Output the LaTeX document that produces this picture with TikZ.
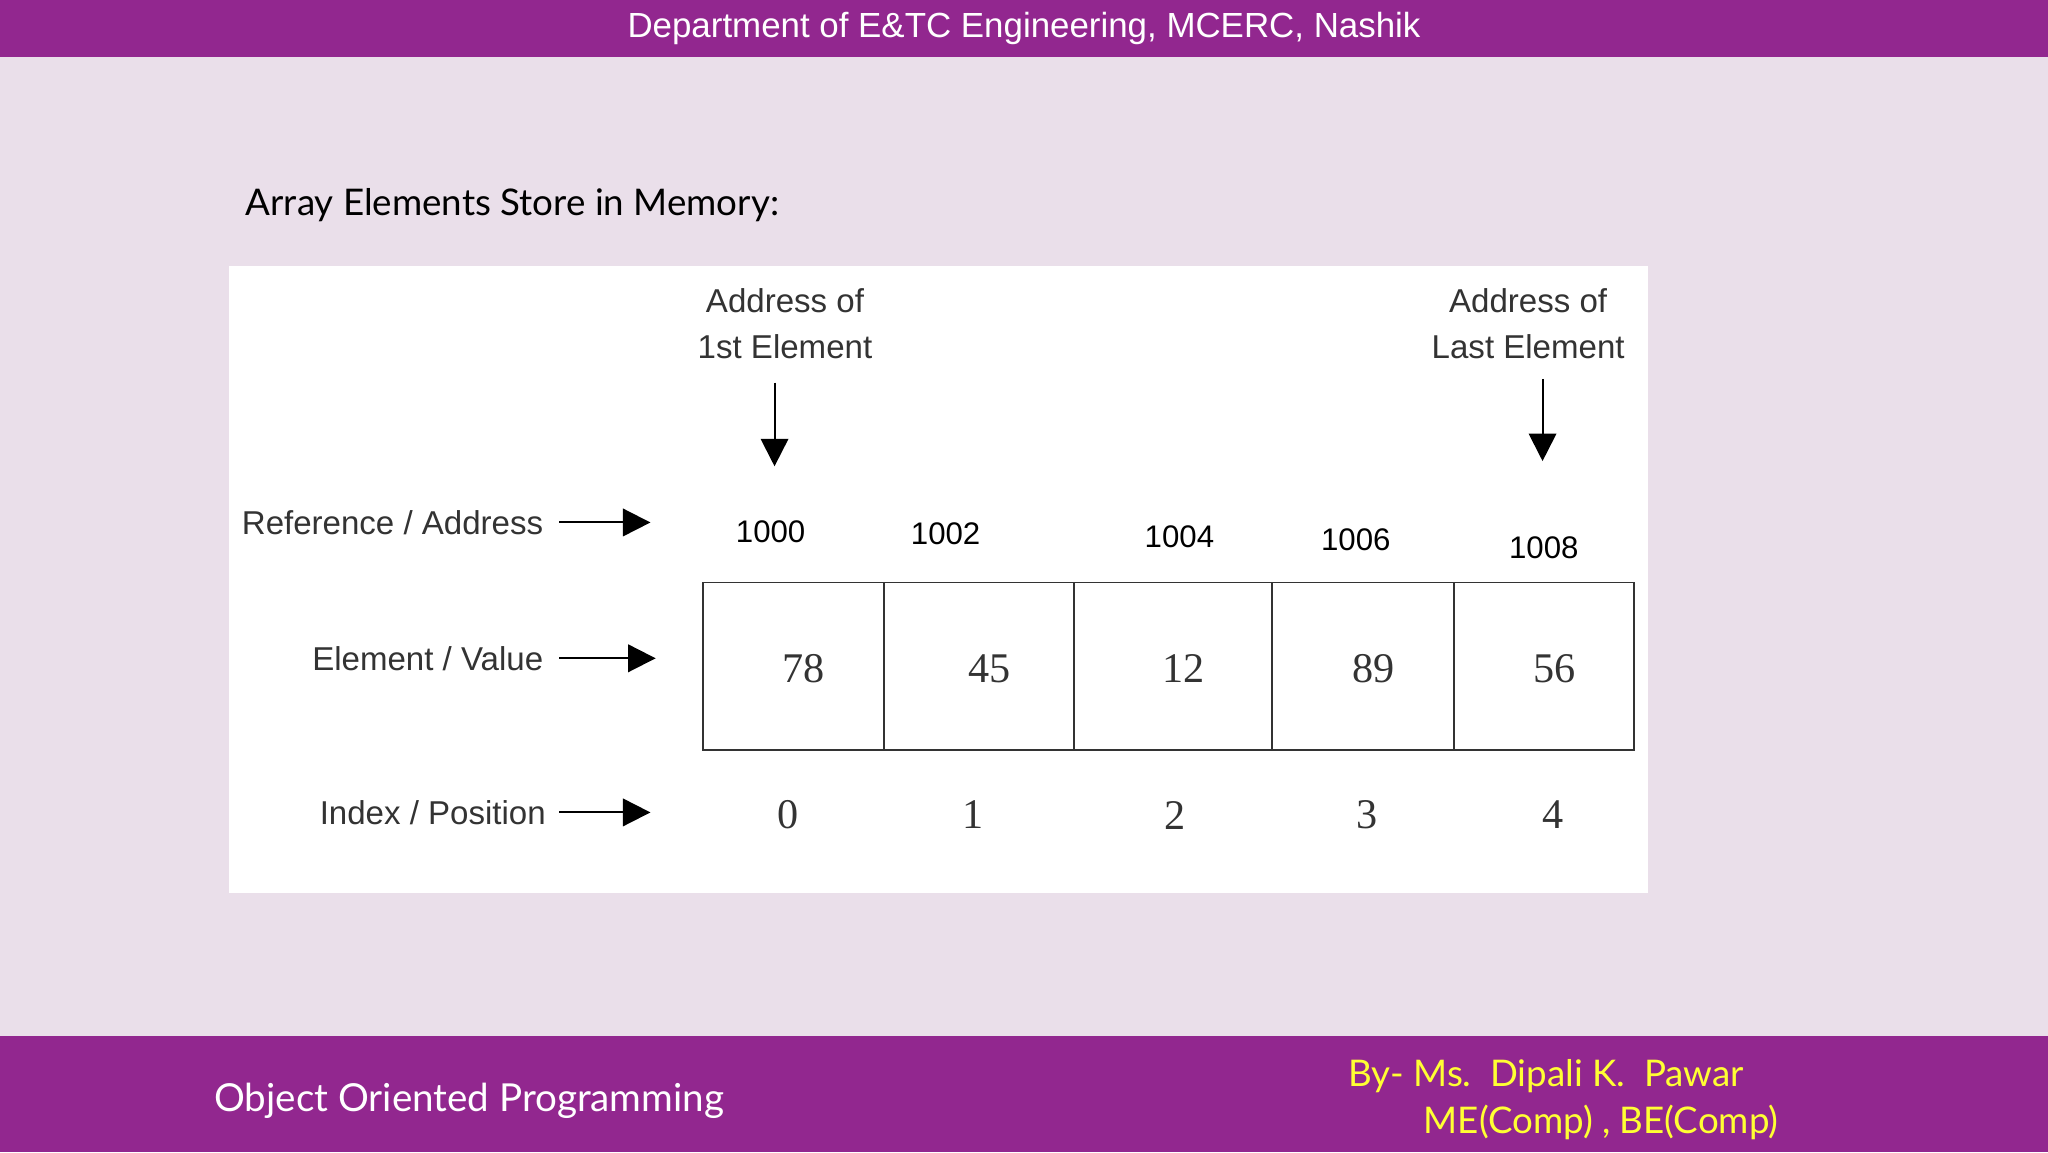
\documentclass[tikz,border=0pt]{standalone}
\usepackage{fontspec}
\setmainfont{Liberation Sans}
\newfontfamily\lato{Lato}
\newfontfamily\tms{Liberation Serif}
\usetikzlibrary{arrows.meta}
\definecolor{barpurple}{HTML}{92278F}
\definecolor{bgl}{HTML}{EADFEA}
\definecolor{yel}{HTML}{FFFF33}
\definecolor{ink}{HTML}{333333}
\tikzset{
 lbl/.style={text=ink,font=\fontsize{36}{40}\selectfont,inner sep=0pt},
 addr/.style={text=black,font=\fontsize{34}{38}\selectfont,inner sep=0pt},
 val/.style={text=ink,font=\tms\fontsize{46}{50}\selectfont,inner sep=0pt},
 cell/.style={draw=ink,line width=2pt,minimum height=128*0.05cm,inner sep=0pt},
 arr/.style={line width=2.2pt,-{Triangle[length=30pt,width=30pt]}},
}
\begin{document}
\begin{tikzpicture}[x=0.05cm,y=-0.05cm]
\useasboundingbox (0,0) rectangle (1568,882);
\fill[bgl] (0,0) rectangle (1568,882);
\fill[barpurple] (0,0) rectangle (1568,44);
\fill[barpurple] (0,793) rectangle (1568,882);
\node[text=white,font=\fontsize{38}{42}\selectfont] (hdr) at (784,22) {Department of E\&TC Engineering, MCERC, Nashik};
\node[anchor=west,text=white,font=\lato\fontsize{42}{46}\selectfont,inner sep=0pt] (oop) at (164,843) {Object Oriented Programming};
\node[anchor=west,text=yel,font=\lato\fontsize{40}{44}\selectfont,inner sep=0pt] (by) at (1032,824) {By- Ms.\ \ Dipali K.\ \ Pawar};
\node[anchor=west,text=yel,font=\lato\fontsize{40}{44}\selectfont,inner sep=0pt] (deg) at (1090,859) {ME(Comp) , BE(Comp)};
\node[anchor=west,text=black,font=\lato\fontsize{40}{44}\selectfont,inner sep=0pt] (title) at (188,157) {Array Elements Store in Memory:};
\fill[white] (175,204) rectangle (1262,684);
% cells
\foreach \a/\b/\v/\n in {538/677/78/c0,677/822/45/c1,822/974/12/c2,974/1113/89/c3,1113/1251/56/c4}{
 \node[cell,minimum width=(\b-\a)*0.05cm] (\n) at ({(\a+\b)/2},510) {};
 \node[val] (v\n) at ({(\a+\b)/2+8},512) {\v};
}
\foreach \x/\y/\t/\n in {590/407/1000/a0,724/409/1002/a1,903/411/1004/a2,1038/413/1006/a3,1182/419/1008/a4}{
 \node[addr] (\n) at (\x,\y) {\t};}
\foreach \x/\t in {603/0,745/1,900/2,1047/3,1189/4}{
 \node[val] (i\t) at (\x,624) {\t};}
\node[lbl,anchor=east] (lr) at (416,400) {Reference / Address};
\node[lbl,anchor=east] (le) at (416,504) {Element / Value};
\node[lbl,anchor=east] (li) at (418,622) {Index / Position};
\coordinate (er) at (498,400); \coordinate (ee) at (502,504); \coordinate (ei) at (498,622);
\draw[arr] (lr.east)++(12,0) -- (er);
\draw[arr] (le.east)++(12,0) -- (ee);
\draw[arr] (li.east)++(10,0) -- (ei);
\node[lbl,align=center,font=\fontsize{36}{50}\selectfont] (af) at (601,248) {Address of\\1st Element};
\node[lbl,align=center,font=\fontsize{36}{50}\selectfont] (al) at (1170,248) {Address of\\Last Element};
\coordinate (tf) at (593,357); \coordinate (tl) at (1181,353);
\draw[arr] (593,293) -- (tf);
\draw[arr] (1181,290) -- (tl);
\end{tikzpicture}
\end{document}
